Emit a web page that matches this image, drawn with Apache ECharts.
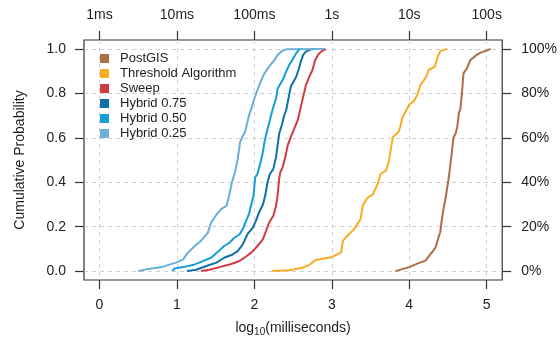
<!DOCTYPE html>
<html><head><meta charset="utf-8">
<script src="https://cdn.jsdelivr.net/npm/echarts@6/dist/echarts.min.js"></script>
<style>html,body{margin:0;padding:0;background:#fff}#c{width:560px;height:343px}</style>
</head><body><div id="c"></div>
<script>
const xTicks = [0, 1, 2, 3, 4, 5];
const topTickLabels = ['1ms', '10ms', '100ms', '1s', '10s', '100s'];
const yTicks = [0, 0.2, 0.4, 0.6, 0.8, 1.0];
const rightTickLabels = ['0%', '20%', '40%', '60%', '80%', '100%'];
const seriesNames = ['PostGIS', 'Threshold Algorithm', 'Sweep', 'Hybrid 0.75', 'Hybrid 0.50', 'Hybrid 0.25'];
const seriesColors = ['#ab6e46', '#f8ad24', '#cf3c42', '#0f71a5', '#179ed9', '#6aafd9'];

const postgis = [[3.82,0],[4.0,0.018],[4.12,0.036],[4.21,0.047],[4.27,0.075],[4.30,0.087],[4.34,0.107],[4.38,0.155],[4.40,0.175],[4.42,0.23],[4.445,0.286],[4.47,0.33],[4.51,0.42],[4.545,0.52],[4.57,0.60],[4.60,0.62],[4.62,0.65],[4.64,0.71],[4.66,0.73],[4.68,0.80],[4.70,0.89],[4.745,0.913],[4.79,0.95],[4.87,0.973],[4.92,0.983],[5.0,0.992],[5.05,1.0]];
const threshold = [[2.23,0],[2.45,0.004],[2.62,0.015],[2.71,0.028],[2.79,0.05],[2.99,0.062],[3.08,0.077],[3.12,0.085],[3.145,0.137],[3.20,0.158],[3.29,0.19],[3.37,0.234],[3.40,0.295],[3.46,0.33],[3.53,0.345],[3.59,0.39],[3.63,0.437],[3.70,0.452],[3.74,0.50],[3.77,0.566],[3.79,0.603],[3.86,0.626],[3.88,0.645],[3.91,0.69],[3.95,0.716],[4.0,0.75],[4.06,0.765],[4.10,0.79],[4.145,0.837],[4.19,0.86],[4.22,0.875],[4.25,0.905],[4.33,0.92],[4.36,0.958],[4.40,0.99],[4.49,1.0]];
const sweep = [[1.31,0],[1.42,0.006],[1.55,0.018],[1.68,0.03],[1.785,0.042],[1.87,0.06],[1.96,0.083],[2.04,0.113],[2.11,0.143],[2.15,0.18],[2.19,0.218],[2.245,0.249],[2.28,0.294],[2.30,0.34],[2.32,0.415],[2.335,0.445],[2.365,0.467],[2.40,0.513],[2.43,0.566],[2.47,0.603],[2.515,0.641],[2.56,0.679],[2.60,0.739],[2.63,0.784],[2.665,0.837],[2.71,0.875],[2.75,0.905],[2.785,0.95],[2.83,0.977],[2.87,0.99],[2.92,1.0]];
const hybrid75 = [[1.13,0],[1.25,0.006],[1.38,0.023],[1.51,0.038],[1.61,0.06],[1.72,0.075],[1.785,0.09],[1.85,0.12],[1.91,0.166],[1.98,0.196],[2.02,0.226],[2.06,0.264],[2.11,0.30],[2.14,0.34],[2.17,0.40],[2.20,0.437],[2.245,0.46],[2.28,0.513],[2.30,0.566],[2.32,0.618],[2.36,0.664],[2.385,0.70],[2.41,0.724],[2.44,0.777],[2.47,0.83],[2.54,0.875],[2.57,0.905],[2.60,0.943],[2.63,0.973],[2.665,0.988],[2.73,0.998],[2.80,1.0]];
const hybrid50 = [[0.94,0],[0.97,0.012],[1.08,0.018],[1.23,0.03],[1.335,0.045],[1.44,0.06],[1.515,0.083],[1.61,0.113],[1.68,0.128],[1.74,0.15],[1.81,0.166],[1.85,0.189],[1.885,0.219],[1.93,0.256],[1.96,0.30],[1.99,0.34],[2.01,0.422],[2.04,0.437],[2.08,0.49],[2.11,0.535],[2.13,0.58],[2.16,0.626],[2.19,0.664],[2.215,0.70],[2.245,0.739],[2.28,0.777],[2.30,0.822],[2.365,0.86],[2.41,0.897],[2.45,0.928],[2.49,0.95],[2.54,0.98],[2.58,0.998],[2.62,1.0]];
const hybrid25 = [[0.50,0],[0.61,0.008],[0.82,0.02],[0.99,0.038],[1.08,0.053],[1.14,0.083],[1.23,0.113],[1.31,0.136],[1.40,0.173],[1.44,0.218],[1.515,0.256],[1.57,0.279],[1.64,0.294],[1.67,0.332],[1.71,0.40],[1.755,0.452],[1.785,0.505],[1.815,0.58],[1.85,0.608],[1.88,0.626],[1.90,0.656],[1.93,0.70],[1.96,0.73],[2.0,0.777],[2.04,0.815],[2.08,0.852],[2.13,0.89],[2.19,0.92],[2.26,0.95],[2.30,0.973],[2.36,0.992],[2.41,0.998],[2.90,1.0]];

const seriesData = [postgis, threshold, sweep, hybrid75, hybrid50, hybrid25];

const FONT = "'Liberation Sans', Arial, Helvetica, sans-serif";
const TXT = '#1e1e1e';
const AX = '#333';
const tickStyle = {length: 9, lineStyle: {color: AX, width: 1.2}};
const gridLine = {show: true, lineStyle: {type: [4, 4], color: '#cfcfd6', width: 1}};
const lbl = {fontSize: 14, color: TXT, fontFamily: FONT};

const chart = echarts.init(document.getElementById('c'), null, {renderer: 'canvas'});
chart.setOption({
  animation: false,
  backgroundColor: '#fff',
  textStyle: {fontFamily: FONT},
  grid: {left: 84, right: 56, top: 40, bottom: 63, show: true, borderColor: AX, borderWidth: 1.2, backgroundColor: 'transparent'},
  legend: {
    orient: 'vertical', left: 95, top: 46, itemWidth: 9, itemHeight: 9, itemGap: 0, icon: 'rect',
    textStyle: {fontSize: 13, color: TXT, lineHeight: 15, fontFamily: FONT, padding: [0, 0, 0, 6]},
    data: seriesNames
  },
  xAxis: [
    {
      type: 'value', position: 'bottom', min: -0.2, max: 5.2,
      axisLine: {show: false, onZero: false},
      axisTick: Object.assign({customValues: xTicks}, tickStyle),
      axisLabel: Object.assign({customValues: xTicks, margin: 18, formatter: v => String(v)}, lbl),
      splitLine: gridLine,
      name: '{a|log}{s|10}{a|(milliseconds)}', nameLocation: 'middle', nameGap: 39,
      nameTextStyle: {color: TXT, fontFamily: FONT, rich: {
        a: {fontSize: 14, color: TXT, fontFamily: FONT, lineHeight: 18},
        s: {fontSize: 10, color: TXT, fontFamily: FONT, lineHeight: 10, verticalAlign: 'bottom'}
      }}
    },
    {
      type: 'value', position: 'top', min: -0.2, max: 5.2,
      axisLine: {show: false, onZero: false},
      axisTick: Object.assign({customValues: xTicks}, tickStyle),
      axisLabel: Object.assign({customValues: xTicks, margin: 18,
        formatter: v => topTickLabels[xTicks.indexOf(Math.round(v))]}, lbl),
      splitLine: {show: false}
    }
  ],
  yAxis: [
    {
      type: 'value', position: 'left', min: -0.04, max: 1.04,
      axisLine: {show: false, onZero: false},
      axisTick: Object.assign({customValues: yTicks}, tickStyle),
      axisLabel: Object.assign({customValues: yTicks, margin: 18, formatter: v => v.toFixed(1)}, lbl),
      splitLine: gridLine,
      name: 'Cumulative Probability', nameLocation: 'middle', nameGap: 57, nameRotate: 90,
      nameTextStyle: {fontSize: 14, color: TXT, fontFamily: FONT}
    },
    {
      type: 'value', position: 'right', min: -0.04, max: 1.04,
      axisLine: {show: false, onZero: false},
      axisTick: Object.assign({customValues: yTicks}, tickStyle),
      axisLabel: Object.assign({customValues: yTicks, margin: 19,
        formatter: v => rightTickLabels[yTicks.findIndex(t => Math.abs(t - v) < 1e-6)]}, lbl),
      splitLine: {show: false}
    }
  ],
  series: seriesNames.map((name, i) => ({
    name: name, type: 'line', xAxisIndex: 0, yAxisIndex: 0,
    data: seriesData[i], symbol: 'none', showSymbol: false,
    color: seriesColors[i],
    lineStyle: {width: 2, color: seriesColors[i]},
    itemStyle: {color: seriesColors[i]}
  }))
});
</script>
</body></html>
